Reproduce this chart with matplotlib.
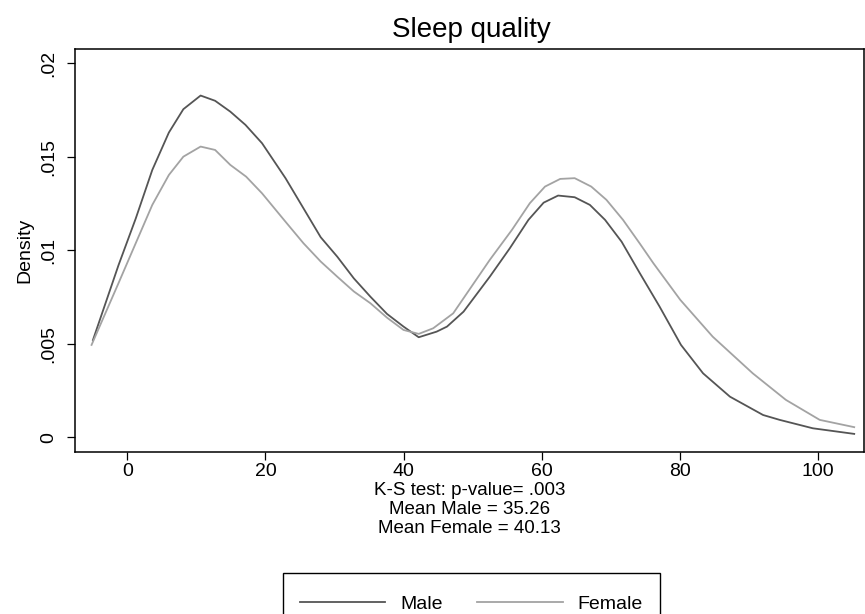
import numpy as np
import matplotlib
matplotlib.use("Agg")
import matplotlib.pyplot as plt
from matplotlib.patches import Rectangle

# kernel density estimates
male_x = [-5.0, -1.3, 1.2, 3.6, 6.0, 8.1, 10.6, 12.7, 14.9, 17.1, 19.5, 22.9, 25.5,
          28.0, 30.4, 32.8, 35.2, 37.6, 40.0, 42.2, 44.8, 46.3, 48.7, 52.5, 55.4,
          58.1, 60.3, 62.4, 64.8, 67.0, 69.2, 71.6, 74.2, 77.1, 80.2, 83.4, 87.3,
          92.1, 94.5, 99.3, 105.3]
male_y = [0.0052, 0.0092, 0.0117, 0.0143, 0.0163, 0.01755, 0.01828, 0.0180, 0.01742,
          0.01671, 0.01573, 0.01386, 0.01225, 0.0107, 0.00966, 0.0085, 0.00752, 0.0066,
          0.00592, 0.00535, 0.00565, 0.00592, 0.00672, 0.00859, 0.01011, 0.01163,
          0.01255, 0.01293, 0.01284, 0.01243, 0.01163, 0.01046, 0.0088, 0.00699,
          0.00494, 0.00342, 0.00217, 0.00119, 0.00093, 0.00048, 0.00018]

female_x = [-5.2, -1.3, 1.2, 3.6, 6.0, 8.1, 10.6, 12.7, 14.9, 17.2, 19.5, 22.9, 25.5,
            28.0, 30.4, 32.8, 35.2, 37.6, 40.0, 42.2, 44.3, 47.2, 48.7, 52.5, 55.7,
            58.3, 60.5, 62.7, 64.8, 67.2, 69.4, 71.8, 74.2, 76.2, 80.1, 84.8, 90.6,
            95.4, 100.3, 105.3]
female_y = [0.00494, 0.00824, 0.01038, 0.01243, 0.01403, 0.01501, 0.01555, 0.01537,
            0.01457, 0.01394, 0.01305, 0.01153, 0.01038, 0.0094, 0.00859, 0.0078,
            0.00717, 0.0064, 0.00574, 0.00553, 0.00583, 0.00663, 0.00744, 0.00949,
            0.01109, 0.01252, 0.01341, 0.01382, 0.01386, 0.01341, 0.0127, 0.01163,
            0.01038, 0.00931, 0.00735, 0.00538, 0.00342, 0.002, 0.00093, 0.00054]

x_ticks = [0, 20, 40, 60, 80, 100]
y_ticks = [0, 0.005, 0.01, 0.015, 0.02]
y_labels = ["0", ".005", ".01", ".015", ".02"]
notes = ["K-S test: p-value= .003", "Mean Male = 35.26", "Mean Female = 40.13"]

plt.rcParams["font.family"] = ["Liberation Sans", "DejaVu Sans"]

fig = plt.figure(figsize=(8.65, 6.14), dpi=100)
ax = fig.add_axes([0.0867, 0.2638, 0.912, 0.6564])

ax.plot(male_x, male_y, color="#555555", lw=1.3, label="Male")
ax.plot(female_x, female_y, color="#a3a3a3", lw=1.3, label="Female")

ax.set_xlim(-7.6, 106.7)
ax.set_ylim(-0.00079, 0.02077)
ax.set_xticks(x_ticks)
ax.set_yticks(y_ticks)
ax.set_yticklabels(y_labels, rotation=90, va="center")
ax.tick_params(axis="both", labelsize=14, length=6, width=0.9, color="black")
ax.tick_params(axis="y", pad=7)
ax.tick_params(axis="x", pad=2)
ax.set_ylabel("Density", fontsize=14)
ax.yaxis.set_label_coords(-0.053, 0.5)
for s in ax.spines.values():
    s.set_linewidth(1.1)
    s.set_color("black")

fig.text(0.545, 0.951, "Sleep quality", ha="center", va="center", fontsize=20)
for i, t in enumerate(notes):
    fig.text(0.543, 0.201 - i * 0.031, t, ha="center", va="center", fontsize=13.5)

# legend box runs off the bottom edge like the original
fig.patches.append(Rectangle((0.3268, -0.03), 0.436, 0.0968, transform=fig.transFigure,
                             fill=False, edgecolor="black", lw=1.0))
fig.legend(loc="center", bbox_to_anchor=(0.5449, 0.0165), ncol=2, fontsize=14,
           frameon=False, handlelength=4.4, handletextpad=0.77, columnspacing=1.75)

fig.savefig("out.png", dpi=100)
